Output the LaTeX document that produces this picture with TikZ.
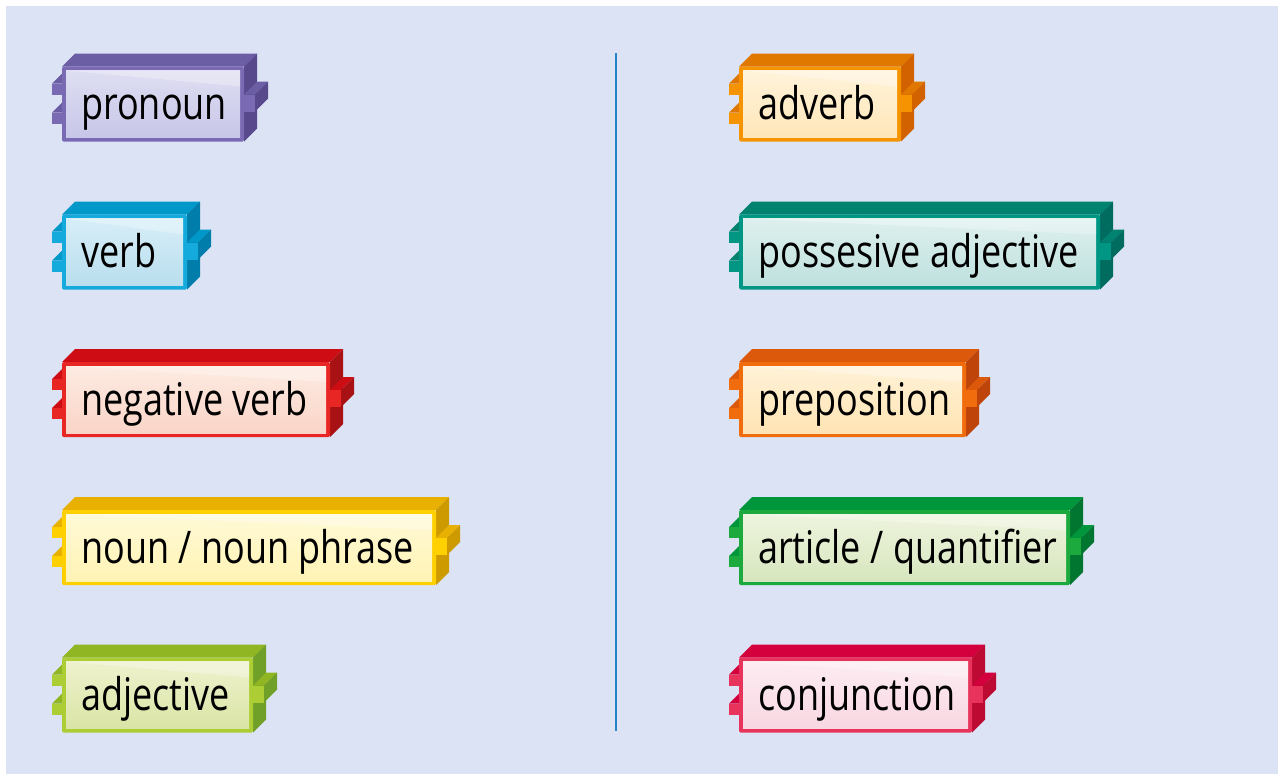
\documentclass[tikz,border=0pt]{standalone}
\usepackage{fontspec}
\newfontfamily\wfont[FakeStretch=0.8]{Open Sans}
\definecolor{bgblue}{RGB}{220,227,245}
\definecolor{divline}{RGB}{35,130,200}
% T top face, S side face, F frame, A fill top, B fill bottom
\definecolor{proT}{RGB}{108,94,164}\definecolor{proS}{RGB}{88,72,140}\definecolor{proF}{RGB}{122,106,180}\definecolor{proA}{RGB}{222,222,242}\definecolor{proB}{RGB}{200,198,232}
\definecolor{verT}{RGB}{0,152,200}\definecolor{verS}{RGB}{0,125,170}\definecolor{verF}{RGB}{20,170,220}\definecolor{verA}{RGB}{215,238,248}\definecolor{verB}{RGB}{185,222,238}
\definecolor{negT}{RGB}{205,12,20}\definecolor{negS}{RGB}{168,18,20}\definecolor{negF}{RGB}{232,38,35}\definecolor{negA}{RGB}{253,235,225}\definecolor{negB}{RGB}{250,212,200}
\definecolor{nouT}{RGB}{232,176,0}\definecolor{nouS}{RGB}{205,155,0}\definecolor{nouF}{RGB}{255,208,0}\definecolor{nouA}{RGB}{255,250,215}\definecolor{nouB}{RGB}{255,243,180}
\definecolor{adjT}{RGB}{145,182,35}\definecolor{adjS}{RGB}{112,160,40}\definecolor{adjF}{RGB}{172,206,52}\definecolor{adjA}{RGB}{238,242,205}\definecolor{adjB}{RGB}{218,228,165}
\definecolor{advT}{RGB}{224,120,0}\definecolor{advS}{RGB}{210,98,0}\definecolor{advF}{RGB}{245,148,0}\definecolor{advA}{RGB}{255,243,218}\definecolor{advB}{RGB}{255,230,185}
\definecolor{posT}{RGB}{0,130,112}\definecolor{posS}{RGB}{0,108,95}\definecolor{posF}{RGB}{0,150,132}\definecolor{posA}{RGB}{222,240,238}\definecolor{posB}{RGB}{190,225,222}
\definecolor{preT}{RGB}{220,88,10}\definecolor{preS}{RGB}{190,68,10}\definecolor{preF}{RGB}{240,108,12}\definecolor{preA}{RGB}{255,242,215}\definecolor{preB}{RGB}{255,228,180}
\definecolor{artT}{RGB}{0,150,60}\definecolor{artS}{RGB}{0,118,48}\definecolor{artF}{RGB}{28,170,62}\definecolor{artA}{RGB}{238,244,222}\definecolor{artB}{RGB}{215,230,190}
\definecolor{conT}{RGB}{212,0,62}\definecolor{conS}{RGB}{188,10,50}\definecolor{conF}{RGB}{232,52,92}\definecolor{conA}{RGB}{253,236,242}\definecolor{conB}{RGB}{248,215,225}
\tikzset{
  wtext/.style={font=\wfont\fontsize{45}{54}\selectfont, inner sep=0pt, text=black, anchor=base west},
  gloss/.style={fill=white, fill opacity=0.28},
}
% #1 name, #2 x0, #3 y top, #4 x1, #5 colour prefix, #6 text
\newcommand\wblock[6]{%
  \fill[#5T] (#2,#3) -- ({#2+13},{#3-13}) -- ({#4+13},{#3-13}) -- (#4,#3) -- cycle;
  \fill[#5S] (#4,#3) -- ({#4+13},{#3-13}) -- ({#4+13},{#3+62}) -- (#4,{#3+75}) -- cycle;
  % right tab
  \fill[#5T] (#4,{#3+28}) -- ({#4+13},{#3+15}) -- ({#4+24},{#3+15}) -- ({#4+11},{#3+28}) -- cycle;
  \fill[#5S] ({#4+11},{#3+28}) -- ({#4+24},{#3+15}) -- ({#4+24},{#3+32}) -- ({#4+11},{#3+45}) -- cycle;
  \fill[#5F] ({#4-2},{#3+28}) rectangle ({#4+11},{#3+45});
  % left tabs
  \fill[#5T] ({#2-10},{#3+17}) -- ({#2+3},{#3+4}) -- ({#2+13},{#3+4}) -- (#2,{#3+17}) -- cycle;
  \fill[#5F] ({#2-10},{#3+17}) rectangle ({#2+2},{#3+28});
  \fill[#5T] ({#2-10},{#3+46}) -- ({#2+3},{#3+33}) -- ({#2+13},{#3+33}) -- (#2,{#3+46}) -- cycle;
  \fill[#5F] ({#2-10},{#3+46}) rectangle ({#2+2},{#3+57});
  % front face
  \fill[#5F, rounded corners=1.5pt] (#2,#3) rectangle (#4,{#3+75});
  \shade[top color=#5A, bottom color=#5B] ({#2+4},{#3+4}) rectangle ({#4-4},{#3+71});
  \fill[gloss] ({#2+4},{#3+4}) -- ({#4-4},{#3+4}) -- ({#4-4},{#3+20}) -- cycle;
  \node[wtext] (#1) at ({#2+19},{#3+53}) {#6};
}
\begin{document}
\begin{tikzpicture}[x=1pt, y=-1pt]
\useasboundingbox (0,0) rectangle (1278,774);
\fill[white] (0,0) rectangle (1278,774);
\fill[bgblue] (6,6) rectangle (1278,774);
\coordinate (divtop) at (616,53);
\coordinate (divbot) at (616,731);
\draw[divline, line width=2pt] (divtop) -- (divbot);
\wblock{pronoun}{62}{66.5}{244}{pro}{pronoun}
\wblock{verb}{62}{214.5}{187}{ver}{verb}
\wblock{negverb}{62}{362}{330}{neg}{negative verb}
\wblock{noun}{62}{510}{436}{nou}{noun / noun phrase}
\wblock{adjective}{62}{657.5}{253}{adj}{adjective}
\wblock{adverb}{739}{66.5}{901}{adv}{adverb}
\wblock{possadj}{739}{214.5}{1100}{pos}{possesive adjective}
\wblock{preposition}{739}{362}{966}{pre}{preposition}
\wblock{article}{739}{510}{1070}{art}{article / quantifier}
\wblock{conjunction}{739}{657.5}{972}{con}{conjunction}
\end{tikzpicture}
\end{document}
